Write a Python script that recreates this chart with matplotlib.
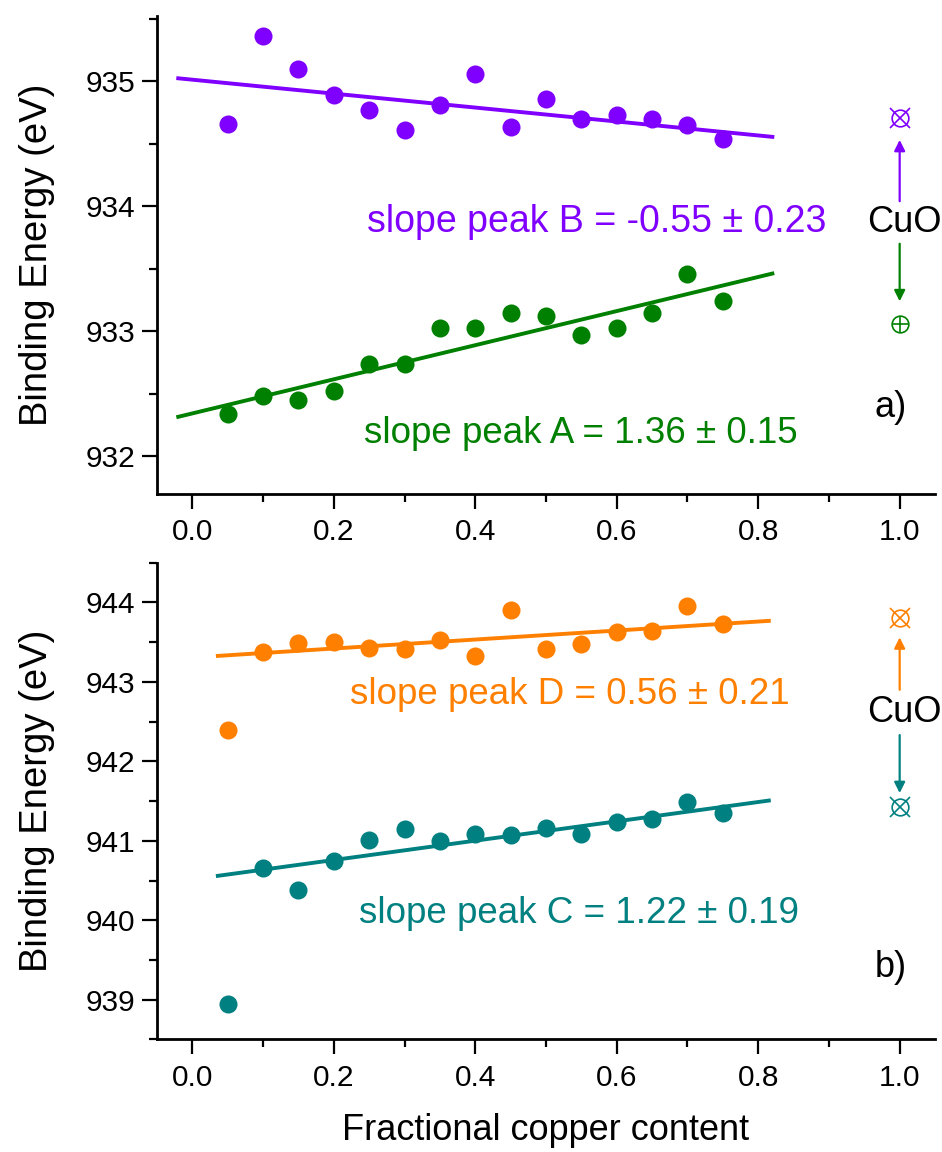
import matplotlib
matplotlib.use('Agg')
import matplotlib.pyplot as plt
import numpy as np
from matplotlib.ticker import MultipleLocator, FormatStrFormatter

plt.rcParams['font.family'] = ['Liberation Sans', 'DejaVu Sans']

# fractional copper content of the films
cu = [0.05, 0.10, 0.15, 0.20, 0.25, 0.30, 0.35, 0.40,
      0.45, 0.50, 0.55, 0.60, 0.65, 0.70, 0.75]

# binding energies (eV)
peak_b = [934.66, 935.36, 935.10, 934.89, 934.77, 934.61, 934.81, 935.06,
          934.63, 934.86, 934.70, 934.73, 934.70, 934.65, 934.54]
peak_a = [932.34, 932.48, 932.45, 932.52, 932.74, 932.74, 933.03, 933.03,
          933.15, 933.12, 932.97, 933.03, 933.15, 933.46, 933.24]
peak_d = [942.40, 943.38, 943.49, 943.50, 943.43, 943.41, 943.53, 943.33,
          943.91, 943.41, 943.48, 943.63, 943.64, 943.96, 943.73]
peak_c = [938.95, 940.66, 940.38, 940.75, 941.01, 941.15, 941.00, 941.08,
          941.07, 941.16, 941.08, 941.23, 941.28, 941.49, 941.35]

# linear fits: (intercept at x=0, slope) and drawn x-range
fit_b = (935.011, -0.557)
fit_a = (932.344, 1.363)
fit_d = (943.306, 0.566)
fit_c = (940.515, 1.216)
range_top = [-0.02, 0.82]
range_bot = [0.036, 0.815]

# CuO reference energies
cuo_b, cuo_a = 934.705, 933.056
cuo_d, cuo_c = 943.80, 941.43

slope_txt = {'B': '-0.55 ± 0.23', 'A': '1.36 ± 0.15',
             'D': '0.56 ± 0.21', 'C': '1.22 ± 0.19'}

PURPLE = '#8000FF'
GREEN = '#008000'
ORANGE = '#FF8000'
TEAL = '#008080'

fig = plt.figure(figsize=(9.42, 11.52), dpi=100)
ax1 = fig.add_axes([0.1667, 0.5712, 0.8259, 0.4149])
ax2 = fig.add_axes([0.1667, 0.0977, 0.8259, 0.4139])


def style(ax, ylo, yhi, ymaj):
    ax.set_xlim(-0.05, 1.05)
    ax.set_ylim(ylo, yhi)
    for s in ['top', 'right']:
        ax.spines[s].set_visible(False)
    for s in ['left', 'bottom']:
        ax.spines[s].set_linewidth(2)
    ax.xaxis.set_major_locator(MultipleLocator(0.2))
    ax.xaxis.set_minor_locator(MultipleLocator(0.1))
    ax.xaxis.set_major_formatter(FormatStrFormatter('%.1f'))
    ax.yaxis.set_major_locator(MultipleLocator(ymaj))
    ax.yaxis.set_minor_locator(MultipleLocator(ymaj / 2))
    ax.yaxis.set_major_formatter(FormatStrFormatter('%d'))
    ax.tick_params(which='major', length=10.5, width=1.6, labelsize=21.5)
    ax.tick_params(which='minor', length=5.5, width=1.6)
    ax.tick_params(axis='x', which='major', pad=7)
    ax.tick_params(axis='y', which='major', pad=5)
    ax.set_ylabel('Binding Energy (eV)', fontsize=27.5, labelpad=22)


def fit_line(ax, fit, xr, color):
    xs = np.array(xr)
    ax.plot(xs, fit[0] + fit[1] * xs, color=color, lw=2.8, zorder=2)


def cuo_marker(ax, y, color, kind):
    ax.plot([1.0], [y], marker='o', ms=12, mfc='none', mec=color, mew=1.2,
            ls='none', zorder=3, clip_on=False)
    ax.plot([1.0], [y], marker=kind, ms=14 if kind == 'x' else 12,
            mec=color, mew=1.2, ls='none', zorder=3, clip_on=False)


def arrow(ax, y0, y1, color):
    ax.annotate('', xy=(1.0, y1), xytext=(1.0, y0),
                arrowprops=dict(arrowstyle='-|>', color=color, lw=1.6,
                                mutation_scale=16, shrinkA=0, shrinkB=0))


# ---- panel a)
style(ax1, 931.7, 935.52, 1)
fit_line(ax1, fit_b, range_top, PURPLE)
fit_line(ax1, fit_a, range_top, GREEN)
ax1.plot(cu, peak_b, 'o', color=PURPLE, ms=13, mec='none', zorder=3)
ax1.plot(cu, peak_a, 'o', color=GREEN, ms=13, mec='none', zorder=3)
cuo_marker(ax1, cuo_b, PURPLE, 'x')
cuo_marker(ax1, cuo_a, GREEN, '+')
arrow(ax1, 934.04, 934.53, PURPLE)
arrow(ax1, 933.70, 933.24, GREEN)
ax1.text(1.006, 933.87, 'CuO', fontsize=26, ha='center', va='center')
ax1.text(0.572, 933.87, 'slope peak B = ' + slope_txt['B'], color=PURPLE,
         fontsize=27, ha='center', va='center')
ax1.text(0.549, 932.18, 'slope peak A = ' + slope_txt['A'], color=GREEN,
         fontsize=26.5, ha='center', va='center')
ax1.text(0.987, 932.39, 'a)', fontsize=26, ha='center', va='center')

# ---- panel b)
style(ax2, 938.5, 944.5, 1)
fit_line(ax2, fit_d, range_bot, ORANGE)
fit_line(ax2, fit_c, range_bot, TEAL)
ax2.plot(cu, peak_d, 'o', color=ORANGE, ms=13, mec='none', zorder=3)
ax2.plot(cu, peak_c, 'o', color=TEAL, ms=13, mec='none', zorder=3)
cuo_marker(ax2, cuo_d, ORANGE, 'x')
cuo_marker(ax2, cuo_c, TEAL, 'x')
arrow(ax2, 942.90, 943.56, ORANGE)
arrow(ax2, 942.33, 941.60, TEAL)
ax2.text(1.006, 942.62, 'CuO', fontsize=26, ha='center', va='center')
ax2.text(0.533, 942.84, 'slope peak D = ' + slope_txt['D'], color=ORANGE,
         fontsize=26.5, ha='center', va='center')
ax2.text(0.546, 940.08, 'slope peak C = ' + slope_txt['C'], color=TEAL,
         fontsize=26.5, ha='center', va='center')
ax2.text(0.987, 939.40, 'b)', fontsize=26, ha='center', va='center')
ax2.set_xlabel('Fractional copper content', fontsize=26, labelpad=15)

fig.savefig('out.png', dpi=100)
